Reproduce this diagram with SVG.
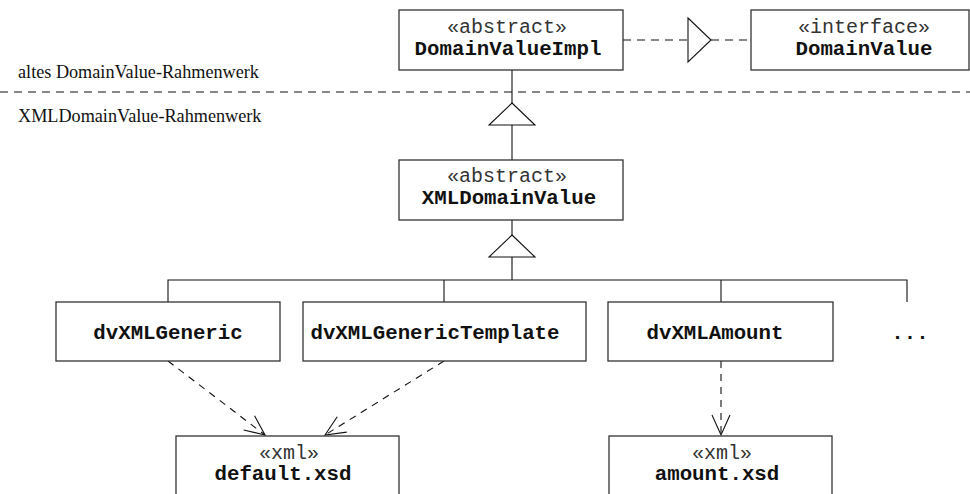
<svg xmlns="http://www.w3.org/2000/svg" width="970" height="494" viewBox="0 0 970 494">
  <style>
    .box { fill: #fff; stroke: #333; stroke-width: 1.3; }
    .st { font-family: "Liberation Mono", "Courier New", monospace; font-size: 20px; fill: #333; text-anchor: middle; }
    .nm { font-family: "Liberation Mono", "Courier New", monospace; font-size: 20.75px; font-weight: bold; fill: #111; text-anchor: middle; }
    .zone { font-family: "Liberation Serif", "Times New Roman", serif; font-size: 18.2px; fill: #111; }
    .line { fill: none; stroke: #111; stroke-width: 1.1; }
    .dash { fill: none; stroke: #111; stroke-width: 1.1; stroke-dasharray: 8 6; }
    .dep { fill: none; stroke: #111; stroke-width: 1.1; stroke-dasharray: 7 6; marker-end: url(#open); }
    .tri { fill: #fff; stroke: #111; stroke-width: 1.1; }
  </style>
  <defs>
    <marker id="open" viewBox="-22 -11 24 22" markerWidth="24" markerHeight="22" refX="0" refY="0" markerUnits="userSpaceOnUse" orient="auto">
      <path d="M-20,-9 L0,0 L-20,9" fill="none" stroke="#111" stroke-width="1.1"/>
    </marker>
  </defs>

  <rect width="970" height="494" fill="#fff"/>

  <!-- framework boundary -->
  <g id="boundary">
    <text class="zone" x="18" y="78">altes DomainValue-Rahmenwerk</text>
    <line class="dash" x1="0" y1="92" x2="970" y2="92" stroke-dasharray="9 6"/>
    <text class="zone" x="18" y="122">XMLDomainValue-Rahmenwerk</text>
  </g>

  <!-- connectors -->
  <g id="connectors">
    <!-- realization DomainValueImpl -> DomainValue -->
    <line class="dash" x1="623" y1="40" x2="688" y2="40"/>
    <line class="dash" x1="711" y1="40" x2="751" y2="40"/>
    <polygon class="tri" points="688,18 711,40 688,62"/>
    <!-- generalization XMLDomainValue -> DomainValueImpl -->
    <line class="line" x1="512" y1="70" x2="512" y2="103"/>
    <polygon class="tri" points="512,103 535,125 489,125"/>
    <line class="line" x1="512" y1="125" x2="512" y2="160"/>
    <!-- generalization subclasses -> XMLDomainValue -->
    <line class="line" x1="512" y1="220" x2="512" y2="235"/>
    <polygon class="tri" points="512,235 535,257 489,257"/>
    <path class="line" d="M512,257 V280 M168,302 V280 H907 V302 M444,280 V302 M721,280 V302"/>
    <!-- dependencies on xml schemas -->
    <line class="dep" x1="168" y1="361" x2="265" y2="435"/>
    <line class="dep" x1="444" y1="361" x2="325" y2="435"/>
    <line class="dep" x1="721" y1="361" x2="721" y2="435"/>
  </g>

  <g id="DomainValueImpl">
    <rect class="box" x="399" y="10" width="224" height="60"/>
    <text class="st" x="507" y="33">«abstract»</text>
    <text class="nm" x="508" y="55">DomainValueImpl</text>
  </g>

  <g id="DomainValue">
    <rect class="box" x="751" y="10" width="218" height="60"/>
    <text class="st" x="864" y="33">«interface»</text>
    <text class="nm" x="864" y="55">DomainValue</text>
  </g>

  <g id="XMLDomainValue">
    <rect class="box" x="399" y="160" width="224" height="60"/>
    <text class="st" x="507" y="182">«abstract»</text>
    <text class="nm" x="509" y="204">XMLDomainValue</text>
  </g>

  <g id="dvXMLGeneric">
    <rect class="box" x="56" y="302" width="224" height="59"/>
    <text class="nm" x="168" y="339">dvXMLGeneric</text>
  </g>

  <g id="dvXMLGenericTemplate">
    <rect class="box" x="303" y="302" width="283" height="59"/>
    <text class="nm" x="435" y="339">dvXMLGenericTemplate</text>
  </g>

  <g id="dvXMLAmount">
    <rect class="box" x="608" y="302" width="225" height="59"/>
    <text class="nm" x="715" y="339">dvXMLAmount</text>
  </g>

  <g id="more">
    <text class="nm" x="910" y="339">...</text>
  </g>

  <g id="default_xsd">
    <rect class="box" x="176" y="436" width="223" height="70"/>
    <text class="st" x="289" y="459">«xml»</text>
    <text class="nm" x="283" y="480">default.xsd</text>
  </g>

  <g id="amount_xsd">
    <rect class="box" x="609" y="436" width="223" height="70"/>
    <text class="st" x="722" y="459">«xml»</text>
    <text class="nm" x="717" y="480">amount.xsd</text>
  </g>
</svg>
